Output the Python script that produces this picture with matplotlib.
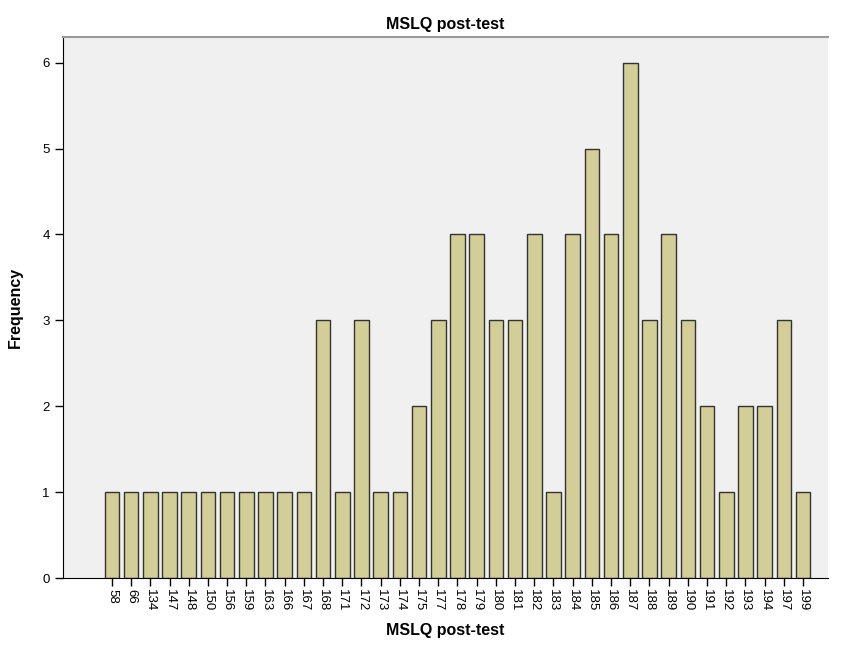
import matplotlib.pyplot as plt
import numpy as np

plt.rcParams['font.family'] = ['Liberation Sans', 'DejaVu Sans']

scores = ['58', '66', '134', '147', '148', '150', '156', '159', '163', '166',
          '167', '168', '171', '172', '173', '174', '175', '177', '178', '179',
          '180', '181', '182', '183', '184', '185', '186', '187', '188', '189',
          '190', '191', '192', '193', '194', '197', '199']
frequency = [1, 1, 1, 1, 1, 1, 1, 1, 1, 1,
             1, 3, 1, 3, 1, 1, 2, 3, 4, 4,
             3, 3, 4, 1, 4, 5, 4, 6, 3, 4,
             3, 2, 1, 2, 2, 3, 1]

x = np.arange(len(scores))

fig = plt.figure(figsize=(8.44, 6.47), dpi=100)
ax = fig.add_axes([0.0746, 0.1066, 0.9064, 0.8364])
ax.set_facecolor('#f0f0f0')

ax.bar(x, frequency, width=0.76, color='#d3ce97', edgecolor='#333333', linewidth=1.0)

ax.set_xlim(-2.55, 37.3)
ax.set_ylim(0, 6.3)
ax.set_xticks(x)
ax.set_xticklabels(scores, rotation=270, fontsize=9.5)
ax.set_yticks(range(7))
ax.tick_params(axis='both', length=6, width=1, colors='black', labelsize=9.5)
ax.tick_params(axis='x', pad=2)

ax.spines['left'].set_color('black')
ax.spines['bottom'].set_color('black')
ax.spines['top'].set_color('#999999')
ax.spines['top'].set_linewidth(1.5)
ax.spines['right'].set_visible(False)

ax.set_title('MSLQ post-test', fontsize=11.5, fontweight='bold', pad=6)
ax.set_xlabel('MSLQ post-test', fontsize=11.5, fontweight='bold', labelpad=8)
ax.set_ylabel('Frequency', fontsize=11.5, fontweight='bold', labelpad=14)

fig.savefig('out.png', dpi=100)
